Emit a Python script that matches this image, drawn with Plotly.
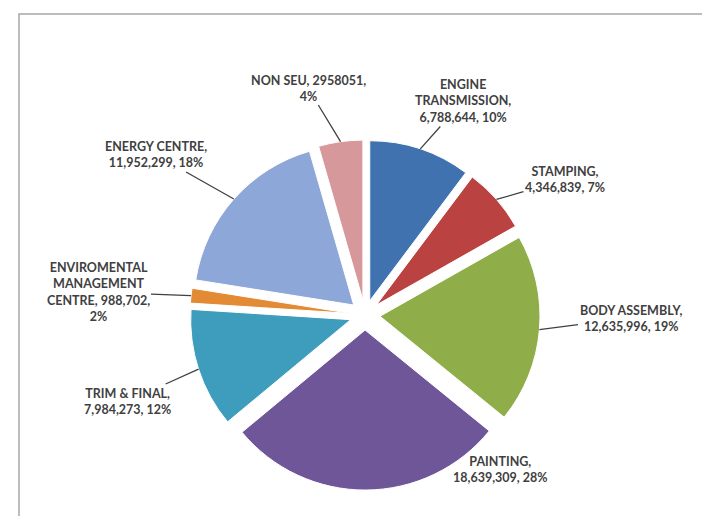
import math
import plotly.graph_objects as go

# ---- data ----
categories = ["ENGINE TRANSMISSION", "STAMPING", "BODY ASSEMBLY", "PAINTING",
              "TRIM & FINAL", "ENVIROMENTAL MANAGEMENT CENTRE", "ENERGY CENTRE", "NON SEU"]
values = [6788644, 4346839, 12635996, 18639309, 7984273, 988702, 11952299, 2958051]
label_texts = [
    "ENGINE<br>TRANSMISSION,<br>6,788,644, 10%",
    "STAMPING,<br>4,346,839, 7%",
    "BODY ASSEMBLY,<br>12,635,996, 19%",
    "PAINTING,<br>18,639,309, 28%",
    "TRIM & FINAL,<br>7,984,273, 12%",
    "ENVIROMENTAL<br>MANAGEMENT<br>CENTRE, 988,702,<br>2%",
    "ENERGY CENTRE,<br>11,952,299, 18%",
    "NON SEU, 2958051,<br>4%",
]

# ---- styling / layout ----
colors = ["#3F72AF", "#BA4240", "#8FAE4A", "#6E5699",
          "#3E9DBD", "#E38A35", "#8DA8D8", "#D6989A"]
W, H = 710, 516
CX, CY = 357, 307          # pie centre (px)
R = 160                    # pie radius (px)
PULL = 0.094
HALF = R * (1 + PULL)
# label centres (px) for each category
label_pos = [(455, 93), (557, 172), (623, 310), (492, 461),
             (120, 393), (90, 284), (148, 147), (300, 80)]
show_leader = [True, True, True, False, True, True, True, True]

fig = go.Figure()
fig.add_trace(go.Pie(
    labels=categories, values=values, sort=False, direction="clockwise", rotation=0,
    marker=dict(colors=colors, line=dict(color="white", width=1)),
    pull=[PULL] * len(values), textinfo="none", hoverinfo="label+value+percent",
    showlegend=False,
    domain=dict(x=[(CX - HALF) / W, (CX + HALF) / W],
                y=[(H - CY - HALF) / H, (H - CY + HALF) / H]),
))

total = sum(values)
cum = 0.0
annotations = []
for i, v in enumerate(values):
    mid = (cum + v / 2) / total * 2 * math.pi
    cum += v
    px = CX + HALF * math.sin(mid)
    py = CY - HALF * math.cos(mid)
    lx, ly = label_pos[i]
    font = dict(family="Lato, Open Sans, sans-serif", size=12.5, color="#404040")
    if show_leader[i]:
        annotations.append(dict(
            x=px / W, y=1 - py / H, xref="paper", yref="paper",
            ax=lx - px, ay=ly - py, axref="pixel", ayref="pixel",
            text="<b>" + label_texts[i] + "</b>", showarrow=True, arrowhead=0,
            arrowwidth=1.3, arrowcolor="#404040", standoff=0, align="center", font=font,
        ))
    else:
        annotations.append(dict(
            x=lx / W, y=1 - ly / H, xref="paper", yref="paper",
            text="<b>" + label_texts[i] + "</b>", showarrow=False, align="center",
            font=font, xanchor="center", yanchor="middle",
        ))

fig.update_layout(
    width=W, height=H, margin=dict(l=0, r=0, t=0, b=0),
    paper_bgcolor="white", plot_bgcolor="white",
    annotations=annotations,
    shapes=[dict(type="rect", xref="paper", yref="paper",
                 x0=11 / W, x1=702 / W, y0=-0.05, y1=1 - 6 / H,
                 line=dict(color="#A6A6A6", width=1.5))],
)

fig.write_html("out.html")
